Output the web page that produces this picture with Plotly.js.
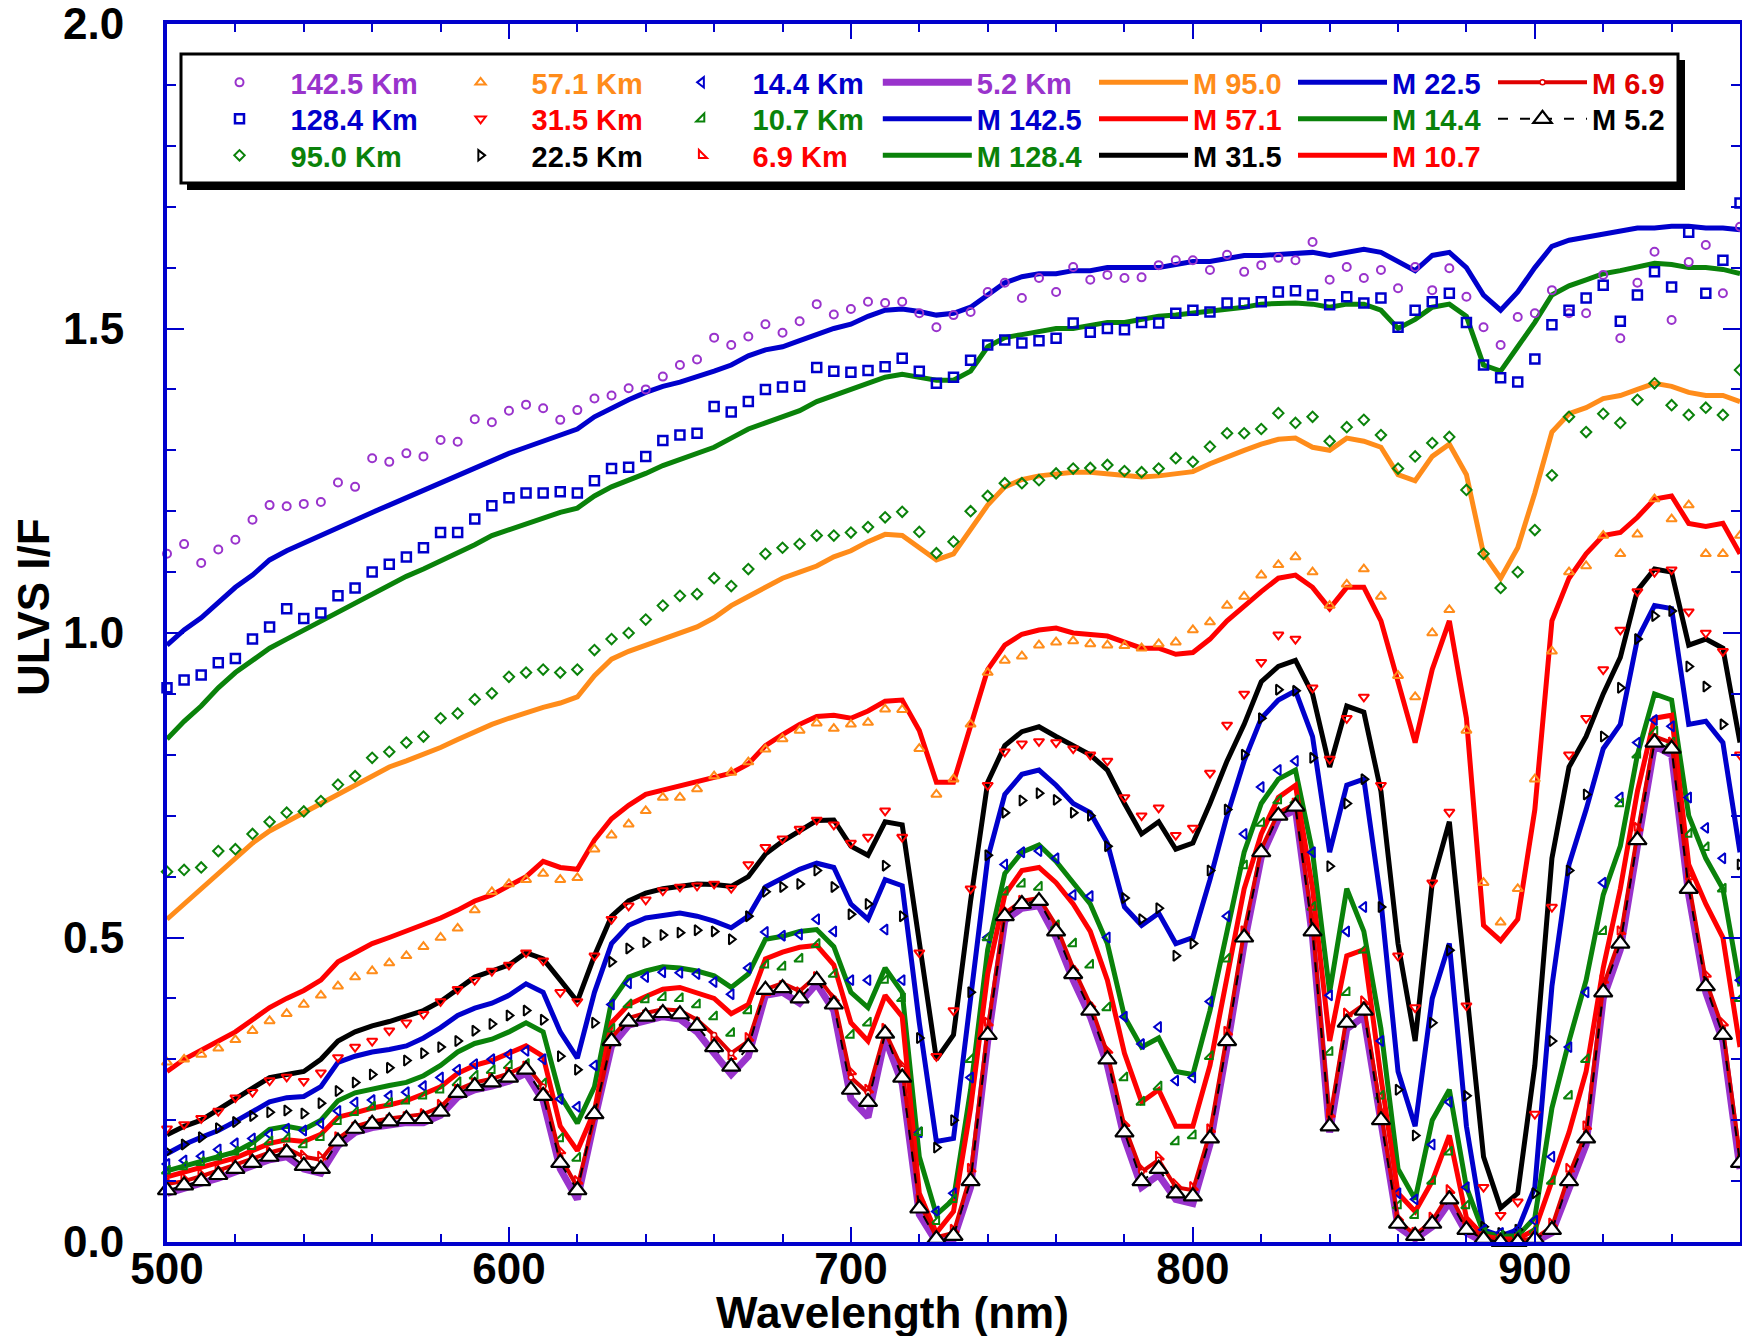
<!DOCTYPE html>
<html><head><meta charset="utf-8">
<script src="https://cdn.plot.ly/plotly-3.0.1.min.js"></script>
<style>html,body{margin:0;padding:0;background:#fff;}#chart{width:1742px;height:1336px;}</style>
</head><body><div id="chart"></div>
<script>
// ---------- DATA ----------
const wavelength = [500,505,510,515,520,525,530,535,540,545,550,555,560,565,570,575,580,585,590,595,
600,605,610,615,620,625,630,635,640,645,650,655,660,665,670,675,680,685,690,695,
700,705,710,715,720,725,730,735,740,745,750,755,760,765,770,775,780,785,790,795,
800,805,810,815,820,825,830,835,840,845,850,855,860,865,870,875,880,885,890,895,
900,905,910,915,920,925,930,935,940,945,950,955,960];

// observations
const obs142_5 = [1.13,1.146,1.115,1.137,1.153,1.186,1.21,1.208,1.212,1.215,
1.247,1.24,1.287,1.281,1.295,1.29,1.317,1.314,1.351,1.346,
1.365,1.375,1.369,1.35,1.366,1.385,1.39,1.402,1.4,1.421,
1.44,1.449,1.485,1.473,1.487,1.507,1.493,1.512,1.54,1.523,
1.532,1.544,1.542,1.544,1.525,1.502,1.522,1.527,1.56,1.575,
1.55,1.583,1.56,1.601,1.58,1.588,1.583,1.584,1.604,1.612,
1.612,1.596,1.621,1.593,1.604,1.616,1.612,1.642,1.58,1.601,
1.583,1.596,1.566,1.601,1.563,1.599,1.552,1.502,1.473,1.519,
1.525,1.563,1.525,1.525,1.588,1.484,1.575,1.626,1.514,1.609,
1.637,1.558,1.667];
const obs128_4 = [0.91,0.923,0.931,0.951,0.958,0.99,1.01,1.04,1.024,1.033,
1.061,1.074,1.1,1.113,1.125,1.14,1.165,1.165,1.187,1.209,
1.222,1.23,1.23,1.232,1.23,1.25,1.27,1.272,1.29,1.316,
1.325,1.328,1.372,1.363,1.38,1.40,1.404,1.405,1.436,1.43,
1.428,1.431,1.437,1.451,1.43,1.41,1.42,1.448,1.473,1.481,
1.476,1.48,1.484,1.509,1.494,1.50,1.498,1.51,1.509,1.525,
1.53,1.527,1.542,1.542,1.544,1.56,1.562,1.555,1.539,1.552,
1.542,1.55,1.502,1.53,1.544,1.558,1.51,1.44,1.419,1.412,
1.45,1.506,1.53,1.55,1.571,1.512,1.555,1.593,1.568,1.658,
1.558,1.612,1.706];
const obs95_0 = [0.608,0.611,0.615,0.642,0.645,0.67,0.69,0.705,0.707,0.724,
0.751,0.765,0.795,0.805,0.82,0.83,0.86,0.868,0.891,0.901,
0.928,0.935,0.94,0.935,0.94,0.972,0.99,1.0,1.022,1.045,
1.061,1.064,1.09,1.077,1.105,1.13,1.14,1.146,1.16,1.16,
1.165,1.174,1.19,1.199,1.166,1.131,1.15,1.2,1.225,1.246,
1.246,1.251,1.262,1.27,1.271,1.276,1.266,1.264,1.27,1.287,
1.281,1.306,1.328,1.328,1.335,1.361,1.345,1.355,1.315,1.338,
1.35,1.325,1.27,1.29,1.312,1.322,1.235,1.13,1.074,1.10,
1.169,1.259,1.355,1.33,1.36,1.345,1.383,1.41,1.374,1.358,
1.37,1.358,1.432];
const obs57_1 = [0.295,0.30,0.308,0.318,0.332,0.347,0.363,0.375,0.39,0.405,
0.42,0.435,0.445,0.458,0.47,0.485,0.50,0.515,0.545,0.575,
0.588,0.595,0.605,0.595,0.598,0.645,0.668,0.686,0.708,0.73,
0.73,0.744,0.765,0.771,0.788,0.809,0.826,0.84,0.852,0.843,
0.85,0.853,0.875,0.874,0.81,0.735,0.76,0.85,0.935,0.955,
0.962,0.98,0.985,0.987,0.982,0.98,0.979,0.975,0.982,0.985,
1.005,1.018,1.045,1.06,1.095,1.112,1.125,1.10,1.045,1.08,
1.105,1.06,0.93,0.895,1.0,1.038,0.84,0.59,0.525,0.58,
0.76,0.97,1.10,1.11,1.16,1.13,1.162,1.22,1.187,1.21,
1.13,1.13,1.16];
const obs31_5 = [0.186,0.193,0.203,0.215,0.237,0.246,0.265,0.271,0.264,0.278,
0.303,0.32,0.33,0.347,0.36,0.374,0.395,0.415,0.43,0.445,
0.455,0.475,0.462,0.41,0.395,0.47,0.53,0.552,0.562,0.577,
0.583,0.585,0.588,0.581,0.62,0.648,0.662,0.678,0.693,0.685,
0.655,0.665,0.708,0.665,0.475,0.305,0.38,0.58,0.75,0.805,
0.818,0.822,0.82,0.81,0.80,0.79,0.73,0.70,0.713,0.668,
0.68,0.77,0.849,0.90,0.952,0.997,0.99,0.91,0.793,0.86,
0.895,0.75,0.47,0.385,0.59,0.706,0.388,0.09,0.044,0.066,
0.21,0.55,0.80,0.86,0.94,1.005,1.068,1.10,1.104,1.035,
1.0,0.97,0.80];
const obs22_5 = [0.148,0.16,0.172,0.187,0.197,0.207,0.213,0.216,0.211,0.228,
0.248,0.262,0.275,0.286,0.298,0.31,0.32,0.33,0.347,0.358,
0.372,0.38,0.365,0.305,0.283,0.36,0.46,0.482,0.492,0.504,
0.508,0.512,0.51,0.497,0.535,0.575,0.583,0.588,0.61,0.583,
0.538,0.555,0.618,0.535,0.335,0.155,0.20,0.41,0.635,0.705,
0.725,0.737,0.726,0.705,0.70,0.65,0.565,0.53,0.548,0.47,
0.49,0.61,0.71,0.80,0.86,0.907,0.905,0.795,0.617,0.72,
0.76,0.55,0.25,0.175,0.36,0.479,0.24,0.025,0.015,0.02,
0.08,0.33,0.61,0.735,0.83,0.91,0.99,1.028,1.036,0.945,
0.912,0.85,0.62];
const obs14_4 = [0.128,0.134,0.141,0.152,0.162,0.17,0.177,0.186,0.183,0.195,
0.215,0.229,0.233,0.24,0.246,0.256,0.27,0.283,0.292,0.30,
0.308,0.314,0.30,0.235,0.222,0.29,0.39,0.425,0.435,0.443,
0.442,0.44,0.427,0.407,0.45,0.509,0.503,0.505,0.53,0.51,
0.43,0.43,0.513,0.43,0.18,0.05,0.08,0.27,0.50,0.62,
0.64,0.642,0.63,0.57,0.568,0.50,0.37,0.325,0.353,0.265,
0.27,0.395,0.535,0.67,0.747,0.775,0.79,0.64,0.405,0.51,
0.55,0.33,0.08,0.07,0.16,0.23,0.09,0.02,0.015,0.02,
0.035,0.14,0.32,0.41,0.59,0.73,0.82,0.857,0.847,0.73,
0.68,0.63,0.43];
const obs10_7 = [0.117,0.124,0.131,0.14,0.148,0.157,0.165,0.17,0.16,0.172,
0.198,0.213,0.222,0.228,0.232,0.24,0.25,0.262,0.273,0.282,
0.29,0.292,0.26,0.17,0.138,0.21,0.35,0.39,0.398,0.402,
0.40,0.39,0.37,0.343,0.38,0.455,0.452,0.465,0.489,0.44,
0.34,0.36,0.43,0.40,0.18,0.034,0.07,0.30,0.50,0.575,
0.588,0.583,0.52,0.49,0.455,0.385,0.27,0.23,0.255,0.165,
0.175,0.305,0.465,0.618,0.688,0.725,0.725,0.55,0.312,0.41,
0.48,0.24,0.06,0.044,0.10,0.148,0.06,0.015,0.01,0.012,
0.02,0.10,0.24,0.30,0.51,0.72,0.80,0.838,0.82,0.67,
0.648,0.58,0.40];
const obs6_9 = [0.10,0.105,0.112,0.12,0.128,0.138,0.148,0.152,0.142,0.14,
0.172,0.188,0.196,0.20,0.205,0.21,0.225,0.25,0.26,0.268,
0.278,0.288,0.25,0.15,0.10,0.21,0.33,0.36,0.372,0.378,
0.375,0.36,0.335,0.305,0.335,0.41,0.42,0.41,0.435,0.40,
0.28,0.25,0.35,0.29,0.07,0.01,0.02,0.12,0.36,0.545,
0.56,0.56,0.515,0.45,0.39,0.315,0.195,0.12,0.14,0.095,
0.09,0.185,0.345,0.51,0.645,0.705,0.72,0.53,0.21,0.375,
0.395,0.215,0.04,0.015,0.04,0.085,0.03,0.008,0.004,0.004,
0.008,0.03,0.12,0.19,0.43,0.51,0.68,0.825,0.82,0.60,
0.44,0.36,0.16];
const obs5_2 = [0.08,0.088,0.095,0.105,0.115,0.125,0.135,0.14,0.12,0.113,
0.158,0.18,0.188,0.192,0.196,0.196,0.208,0.238,0.25,0.256,
0.264,0.277,0.232,0.12,0.07,0.20,0.322,0.356,0.364,0.37,
0.366,0.345,0.31,0.275,0.305,0.405,0.41,0.392,0.424,0.38,
0.235,0.205,0.335,0.26,0.045,0.0,0.005,0.09,0.33,0.528,
0.548,0.552,0.50,0.43,0.37,0.29,0.17,0.09,0.11,0.07,
0.063,0.16,0.32,0.49,0.632,0.695,0.71,0.50,0.18,0.35,
0.37,0.19,0.025,0.005,0.025,0.065,0.015,0.0,0.0,0.0,
0.0,0.015,0.09,0.16,0.40,0.48,0.65,0.815,0.80,0.57,
0.41,0.33,0.12];

// models
const M142_5 = [0.98,1.005,1.025,1.05,1.075,1.095,1.12,1.135,1.148,1.16,
1.172,1.185,1.198,1.21,1.222,1.235,1.248,1.258,1.27,1.284,
1.295,1.305,1.315,1.325,1.335,1.355,1.37,1.383,1.395,1.405,
1.412,1.42,1.43,1.44,1.455,1.465,1.47,1.48,1.49,1.50,
1.507,1.52,1.53,1.532,1.528,1.522,1.525,1.535,1.555,1.575,
1.585,1.59,1.59,1.595,1.595,1.60,1.60,1.60,1.60,1.605,
1.61,1.61,1.615,1.62,1.62,1.622,1.625,1.625,1.62,1.625,
1.63,1.625,1.61,1.595,1.62,1.625,1.60,1.555,1.53,1.56,
1.60,1.635,1.645,1.65,1.655,1.66,1.665,1.665,1.668,1.668,
1.665,1.665,1.662];
const M128_4 = [0.826,0.855,0.88,0.91,0.935,0.955,0.975,0.99,1.005,1.02,
1.035,1.05,1.065,1.08,1.093,1.105,1.118,1.13,1.145,1.16,
1.17,1.18,1.19,1.198,1.205,1.225,1.24,1.25,1.262,1.275,
1.285,1.295,1.305,1.32,1.335,1.345,1.355,1.365,1.38,1.39,
1.40,1.41,1.42,1.425,1.42,1.415,1.415,1.43,1.47,1.485,
1.49,1.495,1.50,1.50,1.505,1.51,1.51,1.515,1.52,1.522,
1.525,1.53,1.532,1.535,1.54,1.542,1.542,1.54,1.535,1.54,
1.54,1.53,1.50,1.515,1.535,1.54,1.52,1.44,1.43,1.47,
1.51,1.555,1.57,1.58,1.59,1.595,1.60,1.607,1.605,1.60,
1.60,1.597,1.59];
const M95_0 = [0.53,0.555,0.58,0.605,0.63,0.655,0.675,0.69,0.705,0.72,
0.735,0.75,0.765,0.78,0.79,0.80,0.812,0.825,0.838,0.85,
0.86,0.87,0.878,0.885,0.895,0.93,0.957,0.97,0.98,0.99,
1.0,1.01,1.025,1.045,1.06,1.075,1.09,1.10,1.11,1.125,
1.135,1.15,1.162,1.16,1.14,1.12,1.13,1.17,1.21,1.24,
1.252,1.258,1.262,1.264,1.264,1.262,1.258,1.256,1.258,1.262,
1.265,1.278,1.29,1.30,1.31,1.318,1.32,1.305,1.30,1.32,
1.315,1.305,1.26,1.25,1.29,1.31,1.26,1.13,1.09,1.14,
1.23,1.33,1.36,1.37,1.385,1.39,1.40,1.41,1.405,1.395,
1.39,1.39,1.38];
const M57_1 = [0.28,0.30,0.315,0.33,0.345,0.365,0.385,0.40,0.413,0.43,
0.46,0.475,0.49,0.50,0.51,0.52,0.532,0.545,0.56,0.57,
0.585,0.60,0.625,0.615,0.612,0.66,0.695,0.717,0.735,0.742,
0.75,0.758,0.765,0.77,0.785,0.815,0.833,0.85,0.863,0.865,
0.86,0.872,0.888,0.89,0.84,0.755,0.755,0.85,0.94,0.98,
0.998,1.005,1.008,1.0,0.998,0.995,0.985,0.975,0.975,0.965,
0.968,0.99,1.02,1.045,1.068,1.09,1.095,1.075,1.04,1.075,
1.075,1.02,0.92,0.82,0.94,1.02,0.86,0.52,0.495,0.53,
0.71,1.02,1.09,1.13,1.16,1.165,1.19,1.22,1.225,1.18,
1.175,1.18,1.13];
const M31_5 = [0.176,0.19,0.20,0.218,0.236,0.253,0.27,0.275,0.28,0.30,
0.33,0.345,0.355,0.362,0.37,0.38,0.395,0.415,0.435,0.445,
0.455,0.475,0.465,0.43,0.395,0.47,0.535,0.56,0.573,0.58,
0.585,0.588,0.587,0.584,0.60,0.637,0.658,0.675,0.692,0.693,
0.65,0.635,0.69,0.685,0.49,0.30,0.34,0.56,0.755,0.815,
0.838,0.846,0.83,0.815,0.80,0.775,0.72,0.67,0.69,0.645,
0.655,0.72,0.79,0.85,0.92,0.945,0.955,0.90,0.78,0.88,
0.87,0.74,0.49,0.33,0.59,0.69,0.42,0.14,0.056,0.08,
0.29,0.63,0.78,0.83,0.90,0.96,1.07,1.105,1.10,0.98,
0.99,0.975,0.82];
const M22_5 = [0.145,0.16,0.172,0.183,0.198,0.215,0.23,0.237,0.239,0.255,
0.295,0.305,0.312,0.316,0.322,0.335,0.352,0.372,0.384,0.392,
0.405,0.424,0.41,0.345,0.302,0.41,0.49,0.52,0.532,0.536,
0.54,0.535,0.527,0.516,0.535,0.583,0.598,0.612,0.622,0.615,
0.555,0.53,0.595,0.585,0.36,0.165,0.17,0.40,0.63,0.735,
0.768,0.775,0.75,0.72,0.705,0.655,0.55,0.52,0.54,0.49,
0.50,0.595,0.70,0.79,0.86,0.89,0.905,0.83,0.64,0.75,
0.76,0.56,0.28,0.19,0.40,0.49,0.19,0.02,0.01,0.02,
0.09,0.42,0.62,0.71,0.81,0.85,0.99,1.045,1.04,0.85,
0.855,0.82,0.64];
const M14_4 = [0.117,0.125,0.133,0.141,0.148,0.163,0.185,0.19,0.185,0.20,
0.232,0.245,0.252,0.257,0.262,0.273,0.29,0.312,0.326,0.333,
0.345,0.36,0.345,0.24,0.195,0.255,0.395,0.435,0.445,0.452,
0.45,0.445,0.437,0.418,0.44,0.497,0.502,0.51,0.513,0.485,
0.41,0.385,0.45,0.41,0.14,0.045,0.07,0.25,0.48,0.605,
0.64,0.652,0.625,0.59,0.555,0.49,0.37,0.32,0.335,0.28,
0.275,0.38,0.51,0.64,0.72,0.76,0.775,0.64,0.41,0.58,
0.51,0.35,0.12,0.07,0.20,0.25,0.09,0.015,0.01,0.01,
0.04,0.22,0.33,0.43,0.57,0.65,0.80,0.90,0.89,0.70,
0.63,0.58,0.42];
const M10_7 = [0.107,0.115,0.122,0.13,0.138,0.15,0.162,0.168,0.165,0.177,
0.205,0.212,0.22,0.225,0.232,0.243,0.255,0.277,0.29,0.298,
0.31,0.322,0.305,0.19,0.15,0.215,0.36,0.39,0.403,0.415,
0.418,0.41,0.40,0.375,0.39,0.465,0.476,0.484,0.487,0.455,
0.36,0.33,0.405,0.37,0.08,0.015,0.05,0.22,0.44,0.57,
0.61,0.615,0.59,0.555,0.51,0.43,0.31,0.23,0.25,0.19,
0.19,0.29,0.43,0.58,0.67,0.73,0.75,0.58,0.33,0.47,
0.48,0.27,0.08,0.05,0.10,0.175,0.04,0.01,0.005,0.005,
0.02,0.10,0.18,0.28,0.45,0.58,0.74,0.86,0.865,0.62,
0.555,0.50,0.32];
const M6_9 = [0.095,0.10,0.108,0.117,0.127,0.137,0.147,0.154,0.14,0.135,
0.17,0.19,0.198,0.203,0.207,0.21,0.222,0.25,0.262,0.268,
0.277,0.29,0.255,0.14,0.09,0.205,0.335,0.368,0.376,0.382,
0.38,0.365,0.34,0.31,0.33,0.415,0.425,0.412,0.437,0.40,
0.27,0.245,0.345,0.285,0.065,0.008,0.015,0.11,0.35,0.54,
0.56,0.565,0.52,0.45,0.39,0.31,0.19,0.115,0.135,0.09,
0.085,0.18,0.34,0.51,0.645,0.705,0.72,0.52,0.20,0.37,
0.39,0.21,0.035,0.012,0.035,0.08,0.025,0.006,0.002,0.002,
0.006,0.025,0.11,0.18,0.42,0.50,0.67,0.83,0.82,0.59,
0.43,0.35,0.14];
const M5_2 = [0.085,0.093,0.10,0.11,0.12,0.13,0.14,0.147,0.125,0.12,
0.165,0.186,0.194,0.198,0.202,0.202,0.214,0.245,0.256,0.262,
0.27,0.283,0.24,0.13,0.085,0.21,0.33,0.362,0.37,0.376,
0.374,0.355,0.32,0.288,0.32,0.414,0.417,0.40,0.43,0.39,
0.25,0.23,0.342,0.27,0.055,0.005,0.01,0.10,0.34,0.535,
0.555,0.56,0.51,0.44,0.38,0.30,0.18,0.10,0.12,0.08,
0.075,0.17,0.33,0.50,0.64,0.70,0.715,0.51,0.19,0.36,
0.38,0.20,0.03,0.01,0.03,0.07,0.02,0.005,0.0,0.0,
0.005,0.02,0.10,0.17,0.41,0.49,0.66,0.82,0.81,0.58,
0.42,0.34,0.13];

const xTickVals = [500,600,700,800,900];
const yTickVals = [0.0,0.5,1.0,1.5,2.0];

// ---------- STYLE ----------
const FONT = 'Liberation Sans, Arial, Helvetica, sans-serif';
const COL = {purple:'#9933cc', blue:'#0000cc', green:'#0a820a', orange:'#ff8c1a', red:'#ff0000', dred:'#e00000', black:'#000000'};
const AX = '#0000cc';

// legend grid (pixel positions of the legend columns / rows in the page)
const legColPx = [188.5, 429.6, 650.6, 877.8, 1094, 1293, 1493];
const legColIw = [92, 92, 92, 89, 89, 89, 89];
const legRowPx = [82.5, 119, 155.5];
const PL = 167, PR = 1740, PT = 24, PB = 1242;
const px2x = p => (p - PL) / (PR - PL);
const px2y = p => (PB - p) / (PB - PT);
const legId = (c, r) => { const k = c * 3 + r + 1; return k === 1 ? 'legend' : 'legend' + k; };

const traces = [];
const legends = {};
function addLegend(c, r, color) {
  legends[legId(c, r)] = {
    x: px2x(legColPx[c]), xanchor: 'left', y: px2y(legRowPx[r]), yanchor: 'middle',
    bgcolor: 'rgba(0,0,0,0)', borderwidth: 0, itemwidth: legColIw[c],
    font: {family: FONT, size: 29, color: color, weight: 'bold'},
    itemclick: false, itemdoubleclick: false
  };
}
function line(name, y, color, width, c, r, extra) {
  addLegend(c, r, color);
  traces.push(Object.assign({
    type: 'scatter', mode: 'lines', name: name, x: wavelength, y: y,
    line: {color: color, width: width}, legend: legId(c, r), hoverinfo: 'skip'
  }, extra || {}));
}
function obs(name, y, symbol, color, size, lw, c, r) {
  addLegend(c, r, color);
  traces.push({
    type: 'scatter', mode: 'markers', name: name, x: wavelength, y: y, cliponaxis: false,
    marker: {symbol: symbol, size: size, color: color, line: {color: color, width: lw}},
    legend: legId(c, r), hoverinfo: 'skip'
  });
}

line('5.2 Km', obs5_2, COL.purple, 7, 3, 0);
line('M 142.5', M142_5, COL.blue, 5, 3, 1);
line('M 128.4', M128_4, COL.green, 5, 3, 2);
line('M 95.0', M95_0, COL.orange, 5, 4, 0);
line('M 57.1', M57_1, COL.red, 5, 4, 1);
line('M 31.5', M31_5, COL.black, 5, 4, 2);
line('M 22.5', M22_5, COL.blue, 5, 5, 0);
line('M 14.4', M14_4, COL.green, 5, 5, 1);
line('M 10.7', M10_7, COL.red, 5, 5, 2);

obs('142.5 Km', obs142_5, 'circle-open', COL.purple, 8, 2, 0, 0);
obs('128.4 Km', obs128_4, 'square-open', COL.blue, 9, 2.5, 0, 1);
obs('95.0 Km', obs95_0, 'diamond-open', COL.green, 8, 2, 0, 2);
obs('57.1 Km', obs57_1, 'triangle-up-open', COL.orange, 9, 2, 1, 0);
obs('31.5 Km', obs31_5, 'triangle-down-open', COL.red, 9, 2, 1, 1);
obs('22.5 Km', obs22_5, 'triangle-right-open', COL.black, 9, 2, 1, 2);
obs('14.4 Km', obs14_4, 'triangle-left-open', COL.blue, 9, 2, 2, 0);
obs('10.7 Km', obs10_7, 'triangle-se-open', COL.green, 9, 2, 2, 1);
obs('6.9 Km', obs6_9, 'triangle-sw-open', COL.red, 9, 2, 2, 2);

line('M 6.9', M6_9, COL.dred, 4, 6, 0, {mode: 'lines+markers',
  marker: {symbol: 'circle', size: 5, color: '#ffffff', line: {color: COL.dred, width: 1.5}}});
line('M 5.2', M5_2, COL.black, 2, 6, 1, {mode: 'lines+markers', cliponaxis: false,
  line: {color: COL.black, width: 2, dash: '10px,12px'},
  marker: {symbol: 'triangle-up', size: 16, color: '#ffffff', line: {color: COL.black, width: 2.2}}});

const tickFont = {family: FONT, size: 44, color: '#000', weight: 'bold'};
const layout = Object.assign({
  width: 1742, height: 1336,
  margin: {l: PL, r: 1742 - PR, t: PT, b: 1336 - PB, pad: 0},
  paper_bgcolor: '#fff', plot_bgcolor: '#fff',
  showlegend: true, hovermode: false,
  xaxis: {
    range: [500, 960], tickvals: xTickVals, ticktext: xTickVals.map(String),
    ticks: 'inside', ticklen: 15, tickwidth: 2, tickcolor: AX,
    showline: true, linecolor: AX, linewidth: 4, mirror: 'ticks',
    showgrid: false, zeroline: false, tickfont: tickFont, ticklabelstandoff: -15,
    ticklabeloverflow: 'allow',
    minor: {dtick: 20, tick0: 500, ticks: 'inside', ticklen: 8, tickwidth: 2, tickcolor: AX, showgrid: false}
  },
  yaxis: {
    range: [0, 2], tickvals: yTickVals, ticktext: yTickVals.map(v => v.toFixed(1)),
    ticks: 'inside', ticklen: 17, tickwidth: 2, tickcolor: AX,
    showline: true, linecolor: AX, linewidth: 4, mirror: 'ticks',
    showgrid: false, zeroline: false, tickfont: tickFont, ticklabelstandoff: 30,
    ticklabeloverflow: 'allow',
    minor: {dtick: 0.1, tick0: 0, ticks: 'inside', ticklen: 9, tickwidth: 2, tickcolor: AX, showgrid: false}
  },
  shapes: [
    {type: 'rect', xref: 'paper', yref: 'paper', x0: px2x(187), x1: px2x(1685), y0: px2y(190), y1: px2y(60),
     fillcolor: '#000', line: {width: 0}, layer: 'above'},
    {type: 'rect', xref: 'paper', yref: 'paper', x0: px2x(181), x1: px2x(1678), y0: px2y(183), y1: px2y(54),
     fillcolor: '#fff', line: {color: '#000', width: 3}, layer: 'above'}
  ],
  annotations: [
    {text: 'Wavelength (nm)', xref: 'paper', yref: 'paper', x: px2x(892), y: px2y(1312),
     xanchor: 'center', yanchor: 'middle', showarrow: false,
     font: {family: FONT, size: 44, color: '#000', weight: 'bold'}},
    {text: 'ULVS I/F', xref: 'paper', yref: 'paper', x: px2x(33), y: px2y(607),
     xanchor: 'center', yanchor: 'middle', showarrow: false, textangle: -90,
     font: {family: FONT, size: 44, color: '#000', weight: 'bold'}}
  ]
}, legends);

Plotly.newPlot('chart', traces, layout, {displayModeBar: false, staticPlot: true});
</script></body></html>
